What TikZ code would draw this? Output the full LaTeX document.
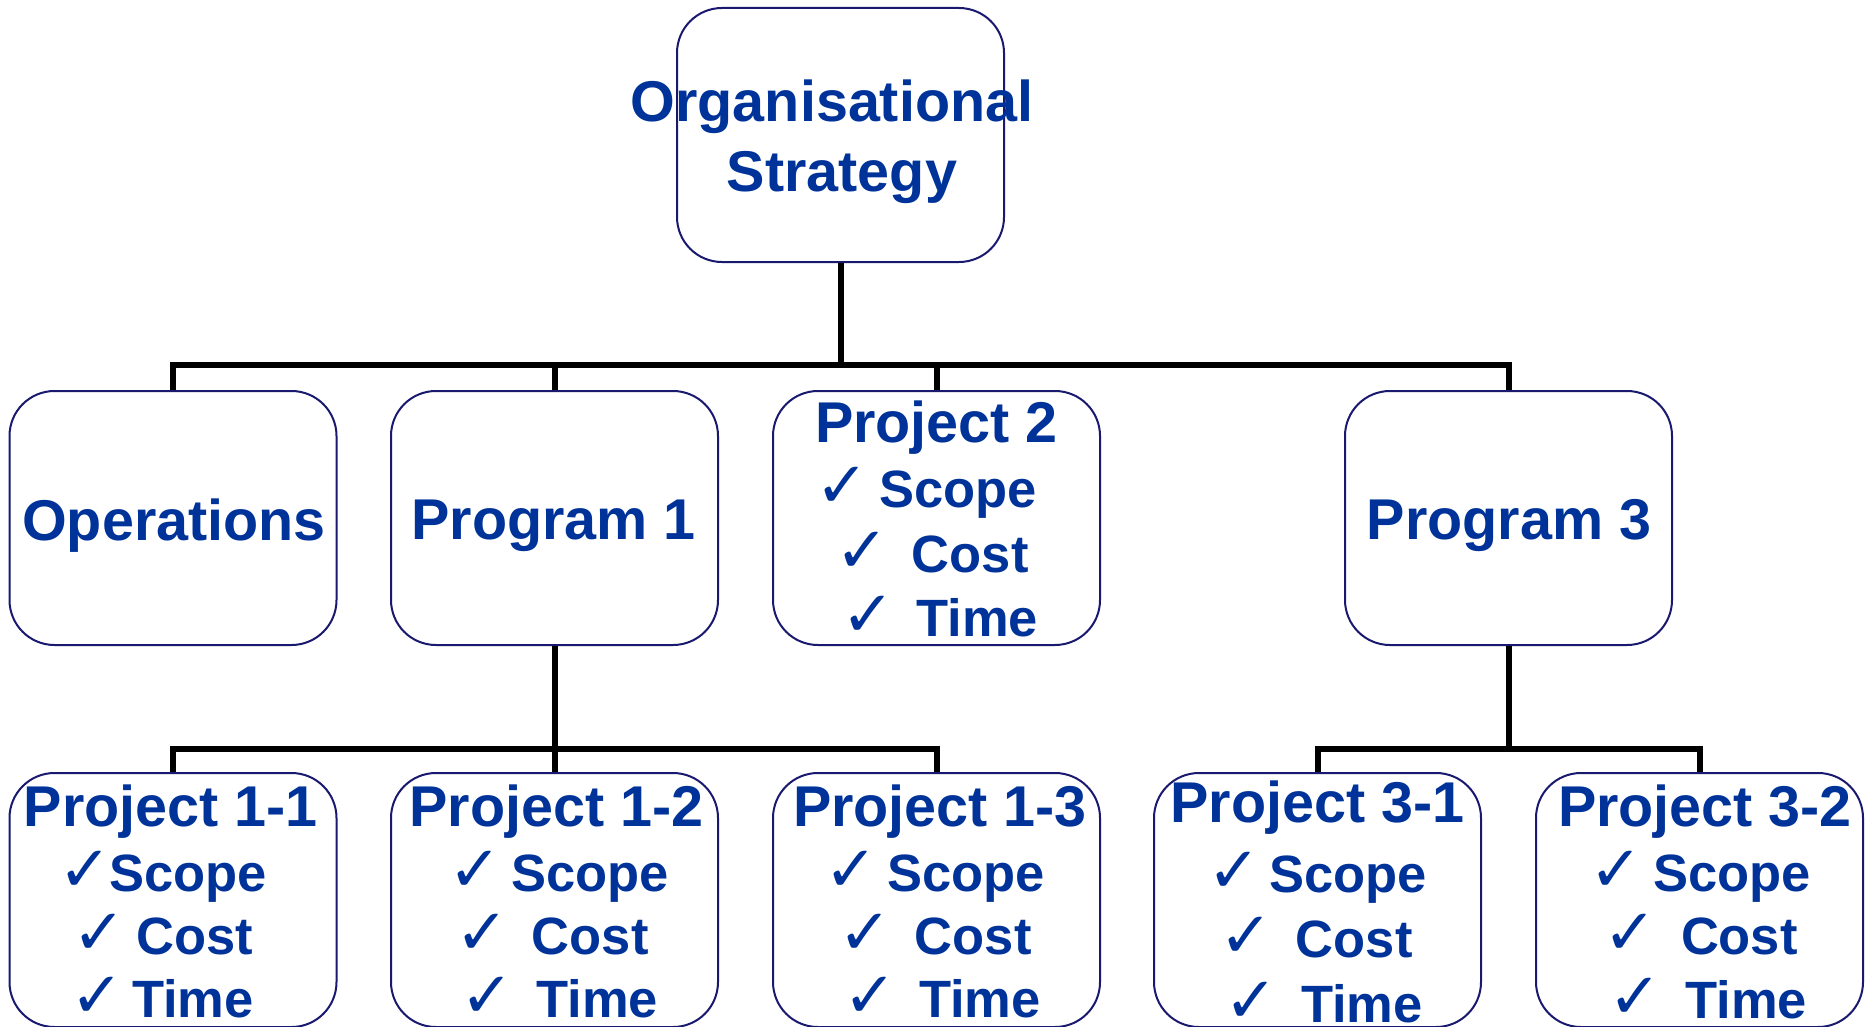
\documentclass[tikz,border=0pt]{standalone}
\usepackage{fontspec}
\setmainfont{Liberation Sans}
\newfontfamily\dejavu{DejaVu Sans}
\definecolor{txtblue}{RGB}{0,51,153}
\definecolor{navyline}{RGB}{25,25,112}
\newcommand\ck{{\dejavu\bfseries\fontsize{64}{64}\selectfont\raisebox{0pt}{✓}}}
\newcommand\ttlat[5]{\path (#2.north) ++(#3,#4) node[ttl] (#1) {#5};}
\newcommand\itmat[6]{\path (#2.north) ++(#3-5,#4) node[itm] (#1) {\ck\hspace{\numexpr#5-10\relax pt}#6};}
\begin{document}
\begin{tikzpicture}[x=1pt,y=-1pt,
  box/.style={draw=navyline, line width=2pt, rounded corners=45pt,
    minimum width=327pt, minimum height=254pt, inner sep=0pt, fill=white},
  ttl/.style={anchor=base, text=txtblue, inner sep=0pt,
    font=\bfseries\fontsize{57.5}{65}\selectfont},
  itm/.style={anchor=base, text=txtblue, inner sep=0pt,
    font=\bfseries\fontsize{52.5}{60}\selectfont},
  conn/.style={line width=6pt, black, line join=miter}]
\useasboundingbox (0,0) rectangle (1870,1027);
\fill[white] (0,0) rectangle (1870,1027);

% boxes
\node[box] (org)  at (840.5,135) {};
\node[box] (ops)  at (173,518) {};
\node[box] (prg1) at (554.5,518) {};
\node[box] (prj2) at (936.5,518) {};
\node[box] (prg3) at (1508.5,518) {};
\node[box] (p11)  at (173,900) {};
\node[box] (p12)  at (554.5,900) {};
\node[box] (p13)  at (936.5,900) {};
\node[box] (p31)  at (1317.5,900) {};
\node[box] (p32)  at (1699.5,900) {};

% connectors
\coordinate (bus1) at (0,365);
\coordinate (bus2) at (0,749);
\draw[conn] (org.south) -- (org.south |- bus1);
\draw[conn] (ops.north) |- (prg3.north |- bus1) -- (prg3.north);
\draw[conn] (prg1.north) -- (prg1.north |- bus1);
\draw[conn] (prj2.north) -- (prj2.north |- bus1);
\draw[conn] (prg1.south) -- (p12.north);
\draw[conn] (p11.north) |- (p13.north |- bus2) -- (p13.north);
\draw[conn] (prg3.south) -- (prg3.south |- bus2);
\draw[conn] (p31.north) |- (p32.north |- bus2) -- (p32.north);

% texts
\ttlat{org-a}{org}{-8.5}{115}{Organisational}
\ttlat{org-b}{org}{1.5}{185}{Strategy}
\ttlat{ops-t}{ops}{1}{150}{Operations}
\ttlat{prg1-t}{prg1}{-1}{149}{Program 1}
\ttlat{prg3-t}{prg3}{0.5}{149}{Program 3}

\ttlat{prj2-t}{prj2}{0}{52}{Project 2}
\itmat{prj2-a}{prj2}{-5.5}{117}{20}{Scope}
\itmat{prj2-b}{prj2}{0.5}{182}{33}{Cost}
\itmat{prj2-c}{prj2}{8.5}{246}{31}{Time}

\ttlat{p11-t}{p11}{-2}{54}{Project 1-1}
\itmat{p11-a}{p11}{-5}{119}{7}{Scope}
\itmat{p11-b}{p11}{-5}{182}{20}{Cost}
\itmat{p11-c}{p11}{-6}{245}{18}{Time}

\ttlat{p12-t}{p12}{2}{54}{Project 1-2}
\itmat{p12-a}{p12}{9.5}{119}{19}{Scope}
\itmat{p12-b}{p12}{2.5}{182}{33}{Cost}
\itmat{p12-c}{p12}{10}{245}{32}{Time}

\ttlat{p13-t}{p13}{3.5}{54}{Project 1-3}
\itmat{p13-a}{p13}{3.5}{119}{19}{Scope}
\itmat{p13-b}{p13}{3.5}{182}{33}{Cost}
\itmat{p13-c}{p13}{10.5}{245}{32}{Time}

\ttlat{p31-t}{p31}{0}{50}{Project 3-1}
\itmat{p31-a}{p31}{4.5}{120}{18}{Scope}
\itmat{p31-b}{p31}{3.5}{185}{33}{Cost}
\itmat{p31-c}{p31}{11}{250}{33}{Time}

\ttlat{p32-t}{p32}{5.5}{54}{Project 3-2}
\itmat{p32-a}{p32}{6}{119}{20}{Scope}
\itmat{p32-b}{p32}{6}{182}{34}{Cost}
\itmat{p32-c}{p32}{13.5}{246}{33}{Time}
\end{tikzpicture}
\end{document}
